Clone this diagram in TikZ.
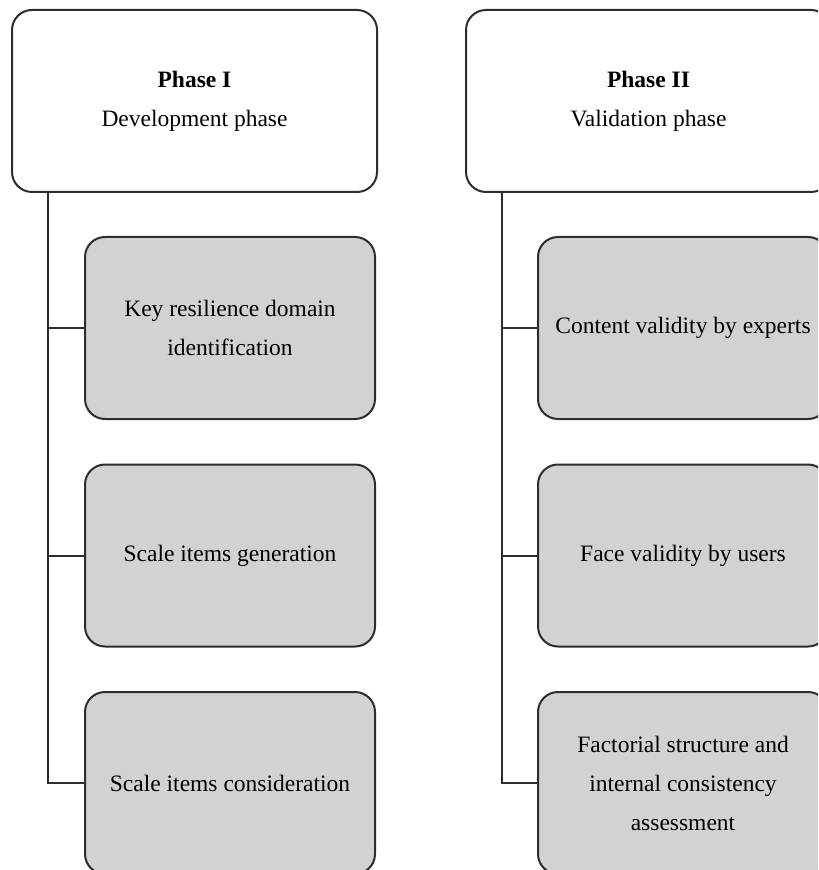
\documentclass[tikz,border=0pt]{standalone}
\usepackage{fontspec}
\setmainfont{Liberation Serif}
\usepackage{xcolor}
\usepackage{tikz}
\usetikzlibrary{positioning}
\definecolor{phaseline}{RGB}{45,45,45}
\definecolor{stepgray}{RGB}{210,210,210}
\newcommand{\phasefont}{\fontsize{11.75}{19.5}\selectfont}
\tikzset{
  phasebox/.style={
    rectangle,
    rounded corners=10pt,
    draw=phaseline,
    line width=1pt,
    fill=white,
    align=center,
    minimum width=182.5pt,
    minimum height=91pt,
    inner sep=0pt,
    font=\phasefont
  },
  stepbox/.style={
    rectangle,
    rounded corners=10pt,
    draw=phaseline,
    line width=1pt,
    fill=stepgray,
    align=center,
    minimum width=145pt,
    minimum height=91pt,
    inner sep=0pt,
    font=\phasefont
  },
  trunkline/.style={
    draw=phaseline,
    line width=1pt
  }
}

\begin{document}
\begin{tikzpicture}[x=0.5pt, y=-0.5pt, node distance=21.75pt]
\useasboundingbox (0,0) rectangle (818,870);
\clip (0,0) rectangle (818,870);

% phase I
\node[phasebox] (dev) at (194.5,101) {\textbf{Phase I}\\Development phase};
\node[stepbox] (key) at (230,328) {Key resilience domain\\identification};
\node[stepbox, below=of key] (gen) {Scale items generation};
\node[stepbox, below=of gen] (cons) {Scale items consideration};

% phase II
\node[phasebox] (val) at (648.5,101) {\textbf{Phase II}\\Validation phase};
\node[stepbox] (expert) at (683,328) {Content validity by experts};
\node[stepbox, below=of expert] (face) {Face validity by users};
\node[stepbox, below=of face] (fact) {Factorial structure and\\internal consistency\\assessment};

\coordinate (devtrunk) at ([xshift=18.5pt]dev.south west);
\coordinate (valtrunk) at ([xshift=18.5pt]val.south west);

\draw[trunkline] (devtrunk) |- (key.west);
\draw[trunkline] (devtrunk) |- (gen.west);
\draw[trunkline] (devtrunk) |- (cons.west);
\draw[trunkline] (valtrunk) |- (expert.west);
\draw[trunkline] (valtrunk) |- (face.west);
\draw[trunkline] (valtrunk) |- (fact.west);
\end{tikzpicture}
\end{document}
